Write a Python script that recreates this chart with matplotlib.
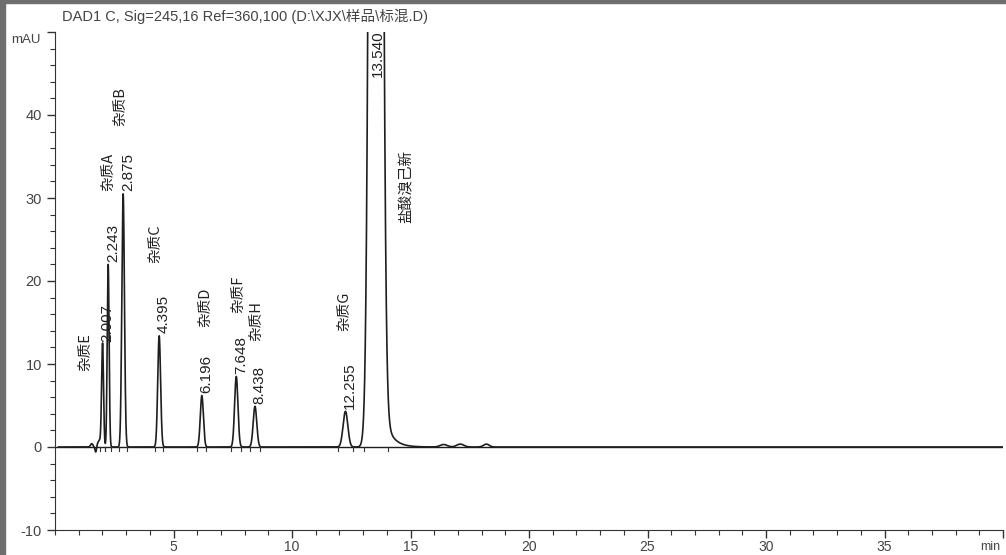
import numpy as np
import matplotlib.pyplot as plt
from matplotlib.patches import Rectangle

# ---- peak table (retention time, height mAU, width) ----
peak_rt = [2.007, 2.243, 2.875, 4.395, 6.196, 7.648, 8.438, 12.255, 13.540]
peak_h = [12.3, 22.0, 30.5, 13.4, 6.2, 8.5, 4.9, 4.3, 400.0]
peak_sd = [0.04, 0.04, 0.055, 0.06, 0.065, 0.07, 0.075, 0.1, 0.17]

# small baseline features (noise at the start, bumps after the main peak)
minor_rt = [1.55, 1.72, 1.88, 16.4, 17.1, 18.2]
minor_h = [0.4, -0.7, 0.8, 0.3, 0.35, 0.35]
minor_sd = [0.05, 0.03, 0.08, 0.15, 0.15, 0.12]

# tailing of the main peak
tail_start = 13.75
tail_amp = 6.0
tail_tau = 0.32

rt_labels = ["2.007", "2.243", "2.875", "4.395", "6.196", "7.648", "8.438", "12.255", "13.540"]
name_labels = ["杂质E", "杂质A", "杂质B", "杂质C", "杂质D", "杂质F", "杂质H", "杂质G", "盐酸溴己新"]
name_x = [1.29, 2.26, 2.76, 4.24, 6.35, 7.74, 8.5, 12.2, 14.83]
name_y = [9.2, 30.8, 38.7, 22.2, 14.4, 16.2, 12.8, 14.0, 27.0]

title = "DAD1 C, Sig=245,16 Ref=360,100 (D:\\XJX\\样品\\标混.D)"

# ---- build trace ----
t = np.linspace(0.15, 40, 16000)
y = np.zeros_like(t)
for rt, h, sd in zip(peak_rt + minor_rt, peak_h + minor_h, peak_sd + minor_sd):
    y += h * np.exp(-0.5 * ((t - rt) / sd) ** 2)
mask = t > tail_start
y[mask] += tail_amp * np.exp(-(t[mask] - tail_start) / tail_tau) * (1 - np.exp(-(t[mask] - tail_start) / 0.05))

fig = plt.figure(figsize=(10.06, 5.55), dpi=100)
ax = fig.add_axes([55 / 1006, 1 - 530 / 555, (1003 - 55) / 1006, (530 - 32) / 555])

ax.plot(t, y, color="#1e1e1e", lw=1.2, clip_on=True)
ax.axhline(0, color="#1e1e1e", lw=1.0)

# integration marks below the baseline
for rt, sd in zip(peak_rt, peak_sd):
    for edge in (rt - 3 * sd, rt + 3 * sd):
        ax.plot([edge, edge], [0, -0.5], color="#333333", lw=0.8)

# retention time labels
for rt, h, lab in zip(peak_rt, peak_h, rt_labels):
    if h > 50:
        ax.text(rt + 0.08, 44.6, lab, rotation=90, ha="center", va="bottom",
                fontsize=11, family=["Liberation Sans", "DejaVu Sans"], color="#222222")
    else:
        ax.text(rt + 0.2, h + 0.3, lab, rotation=90, ha="center", va="bottom",
                fontsize=11, family=["Liberation Sans", "DejaVu Sans"], color="#222222")

# compound names
for x0, y0, lab in zip(name_x, name_y, name_labels):
    ax.text(x0, y0, lab, rotation=90, ha="center", va="bottom", fontsize=10.5,
            family=["Noto Sans CJK SC", "DejaVu Sans"], color="#222222")

ax.set_xlim(0, 40)
ax.set_ylim(-10, 50)
ax.set_xticks([5, 10, 15, 20, 25, 30, 35, 40])
ax.set_xticklabels(["5", "10", "15", "20", "25", "30", "35", ""])
ax.set_xticks(np.arange(0, 41, 1), minor=True)
ax.set_yticks([-10, 0, 10, 20, 30, 40, 50])
ax.set_yticklabels(["-10", "0", "10", "20", "30", "40", ""])
ax.set_yticks(np.arange(-10, 51, 2), minor=True)
ax.tick_params(which="major", length=6, width=1, colors="#333333", labelsize=10.5)
ax.tick_params(which="minor", length=3.5, width=0.8, colors="#333333")
ax.tick_params(axis="x", which="major", labelsize=10, pad=1.5)
for lbl in ax.get_xticklabels() + ax.get_yticklabels():
    lbl.set_family(["Liberation Sans", "DejaVu Sans"])
    lbl.set_color("#444444")

ax.spines["top"].set_visible(False)
ax.spines["right"].set_visible(False)
ax.spines["left"].set_color("#333333")
ax.spines["bottom"].set_color("#333333")

fig.text(990 / 1006, 1 - 547 / 555, "min", ha="center", va="center", fontsize=9,
         family=["Liberation Sans", "DejaVu Sans"], color="#444444")
fig.text(26 / 1006, 1 - 40 / 555, "mAU", ha="center", va="center", fontsize=9.5,
         family=["Liberation Sans", "DejaVu Sans"], color="#444444")
fig.text(62 / 1006, 1 - 16 / 555, title, ha="left", va="center", fontsize=10.5,
         family=["Liberation Sans", "Noto Sans CJK SC", "DejaVu Sans"], color="#444444")

# grey screenshot border
fig.patches.append(Rectangle((0, 0), 5 / 1006, 1, transform=fig.transFigure,
                             color="#6e6e6e", zorder=0))
fig.patches.append(Rectangle((0, 1 - 3 / 555), 1, 3 / 555, transform=fig.transFigure,
                             color="#6e6e6e", zorder=0))

fig.savefig("out.png", dpi=100)
